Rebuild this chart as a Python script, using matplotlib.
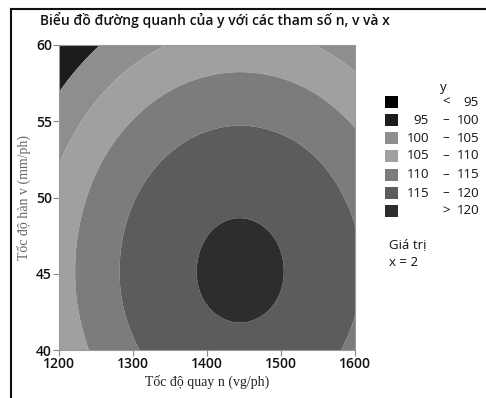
import numpy as np
import matplotlib
matplotlib.use("Agg")
import matplotlib.pyplot as plt
import matplotlib.tri as mtri
from matplotlib.patches import Rectangle
from matplotlib.lines import Line2D


# Data (values estimated from the reference contour plot)

n_vals = [1200, 1250, 1300, 1350, 1400, 1450, 1500, 1550, 1600]
v_vals = [40, 42.5, 45, 47.5, 50, 52.5, 55, 57.5, 60]

# rows follow v_vals, columns follow n_vals
y_grid = [
    [106.28, 110.83, 114.48, 117.08, 118.59, 119.03, 118.38, 116.65, 113.84],
    [107.46, 112.07, 115.74, 118.34, 119.85, 120.28, 119.63, 117.90, 115.09],
    [107.89, 112.53, 116.20, 118.80, 120.31, 120.74, 120.09, 118.36, 115.55],
    [107.58, 112.19, 115.87, 118.46, 119.98, 120.41, 119.76, 118.03, 115.22],
    [106.52, 111.08, 114.74, 117.33, 118.85, 119.28, 118.63, 116.90, 114.09],
    [104.73, 109.21, 112.82, 115.41, 116.92, 117.36, 116.71, 114.98, 112.17],
    [102.28, 106.62, 110.13, 112.69, 114.20, 114.64, 113.99, 112.26, 109.50],
    [99.22, 103.39, 106.77, 109.24, 110.71, 111.14, 110.50, 108.82, 106.17],
    [95.63, 99.60, 102.82, 105.18, 106.58, 106.99, 106.38, 104.78, 102.24],
]

levels = [0, 95, 100, 105, 110, 115, 120, 200]
band_colors = ["#000000", "#1c1c1c", "#8e8e8e", "#a0a0a0", "#7c7c7c", "#5c5c5c", "#2d2d2d"]
band_low = ["", "95", "100", "105", "110", "115", ""]
band_mid = ["<", "–", "–", "–", "–", "–", ">"]
band_high = ["95", "100", "105", "110", "115", "120", "120"]

x_ticks = [1200, 1300, 1400, 1500, 1600]
y_ticks = [40, 45, 50, 55, 60]


# Figure

W, H = 486, 398
fig = plt.figure(figsize=(W / 100, H / 100), dpi=100)

def fx(px):
    return px / W

def fy(py):
    return 1 - py / H

ax = fig.add_axes([fx(59), fy(350), fx(355) - fx(59), fy(45) - fy(350)])

# smooth surface through the library's triangulation tools (unit square coords)
N, V = np.meshgrid(n_vals, v_vals)
Z = np.array(y_grid)
n0, n_span = min(n_vals), max(n_vals) - min(n_vals)
v0, v_span = min(v_vals), max(v_vals) - min(v_vals)
tri = mtri.Triangulation((N.ravel() - n0) / n_span, (V.ravel() - v0) / v_span)
interp = mtri.CubicTriInterpolator(tri, Z.ravel(), kind="min_E")
tri_f, z_f = mtri.UniformTriRefiner(tri).refine_field(Z.ravel(), triinterpolator=interp, subdiv=4)
tri_d = mtri.Triangulation(tri_f.x * n_span + n0, tri_f.y * v_span + v0, tri_f.triangles)
ax.tricontourf(tri_d, z_f, levels=levels, colors=band_colors, antialiased=True)

ax.set_xlim(min(n_vals), max(n_vals))
ax.set_ylim(min(v_vals), max(v_vals))
ax.set_xticks(x_ticks)
ax.set_yticks(y_ticks)

tick_font = dict(family="Open Sans", weight="semibold", size=10)
ax.set_xticklabels([str(t) for t in x_ticks], fontdict=tick_font)
ax.set_yticklabels([str(t) for t in y_ticks], fontdict=tick_font)
ax.tick_params(direction="out", length=4, width=0.8, color="#888888", pad=1, labelcolor="#111111")
for s in ax.spines.values():
    s.set_color("#9a9a9a")
    s.set_linewidth(0.8)

ax.set_xlabel("Tốc độ quay n (vg/ph)", family="Liberation Serif", fontsize=10, color="#222222", labelpad=3)
ax.set_ylabel("Tốc độ hàn v (mm/ph)", family="Liberation Serif", fontsize=10, color="#666666", labelpad=4)

fig.text(fx(40), fy(20), "Biểu đồ đường quanh của y với các tham số n, v và x",
         family="Open Sans", weight="semibold", fontsize=10, va="center", ha="left", color="#111111")

# legend
leg_font = dict(family="Open Sans", fontsize=9.5, color="#111111", va="center")
fig.text(fx(443), fy(87), "y", ha="center", **leg_font)
row_y = [102, 120, 138, 156, 175, 193, 211]
for i, c in enumerate(band_colors):
    y = row_y[i]
    fig.patches.append(Rectangle((fx(385), fy(y + 6)), fx(13), fy(y - 6) - fy(y + 6),
                                 transform=fig.transFigure, facecolor=c, edgecolor="none"))
    fig.text(fx(429), fy(y), band_low[i], ha="right", **leg_font)
    fig.text(fx(446), fy(y), band_mid[i], ha="center", **leg_font)
    fig.text(fx(479), fy(y), band_high[i], ha="right", **leg_font)

fig.text(fx(389), fy(245), "Giá trị", ha="left", **leg_font)
fig.text(fx(389), fy(263), "x = 2", ha="left", **leg_font)

# outer frame
fig.lines.append(Line2D([fx(11), fx(11)], [fy(9), fy(H + 5)], transform=fig.transFigure, color="#111111", lw=1.5))
fig.lines.append(Line2D([fx(11), fx(W + 5)], [fy(9), fy(9)], transform=fig.transFigure, color="#111111", lw=1.5))

fig.savefig("out.png", dpi=100)
